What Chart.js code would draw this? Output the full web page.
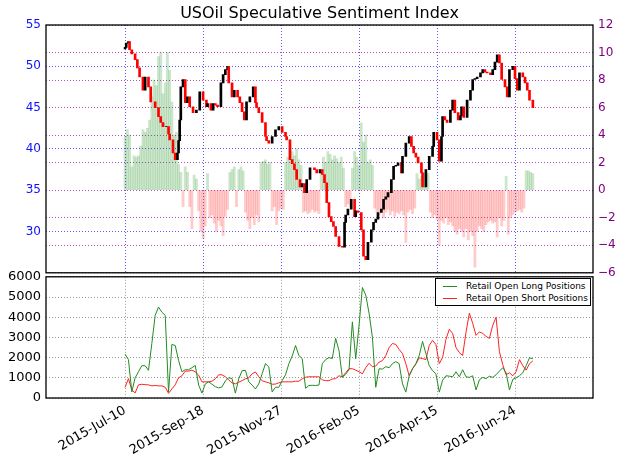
<!DOCTYPE html>
<html>
<head>
<meta charset="utf-8">
<script src="https://cdn.jsdelivr.net/npm/chart.js@4.4.1/dist/chart.umd.min.js"></script>
<style>
  body { margin: 0; background: #fff; }
  #wrap { position: relative; width: 624px; height: 466px; overflow: hidden; }
  #top { position: absolute; left: 0; top: 0; }
  #bot { position: absolute; left: 0; top: 264px; }
  #legend {
    position: absolute; left: 435px; top: 278px; width: 154px; height: 26px;
    border: 1px solid #000; background: #fff;
    font: 9px "DejaVu Sans", sans-serif; color: #000;
  }
  #legend .row { position: absolute; left: 0; height: 12px; line-height: 12px; white-space: nowrap; }
  #legend .ln { position: absolute; left: 7px; top: 6px; width: 14px; height: 1px; }
  #legend .tx { position: absolute; left: 30px; top: 0; }
</style>
</head>
<body>
<div id="wrap">
  <canvas id="top" width="624" height="285"></canvas>
  <canvas id="bot" width="624" height="202"></canvas>
  <div id="legend">
    <div class="row" style="top:1px"><span class="ln" style="background:#228b22"></span><span class="tx">Retail Open Long Positions</span></div>
    <div class="row" style="top:13px"><span class="ln" style="background:#ff2020"></span><span class="tx">Retail Open Short Positions</span></div>
  </div>
</div>
<script>
// x axis is in days counted from 2015-Jul-10
const tickDays = [0, 70, 140, 210, 280, 350];
const tickLabels = ['2015-Jul-10', '2015-Sep-18', '2015-Nov-27', '2016-Feb-05', '2016-Apr-15', '2016-Jun-24'];

// USOil closes (candles open at the previous close)
const priceDays = [0,1,3,4,6,9,11,13,16,18,21,23,27,30,32,34,37,39,40,43,45,47,48,49,50,52,54,56,58,61,
  64,67,70,73,74,77,79,81,83,86,88,90,92,93,96,98,101,103,105,107,109,112,115,117,118,120,123,126,127,129,
  132,135,138,141,144,145,148,150,152,154,157,159,161,163,166,170,172,175,177,179,181,183,185,187,189,192,195,197,198,200,
  203,206,207,209,212,214,216,218,221,223,225,227,230,232,234,236,239,241,243,245,248,249,252,255,257,259,261,263,266,267,
  270,273,276,277,280,282,284,285,287,289,292,294,296,299,301,302,304,307,310,312,314,316,319,321,323,325,328,330,332,334,
  336,338,341,343,345,348,350,352,354,357,359,361,363,366];
const priceClose = [52.3,52.8,53.0,52.0,51.5,50.8,49.8,48.7,47.1,48.7,47.5,45.7,45.0,43.9,43.2,42.7,42.7,41.8,41.1,39.5,38.7,39.5,41.0,43.5,47.5,48.4,45.6,46.3,45.1,44.4,
  44.7,46.9,45.9,45.1,45.5,44.7,45.5,45.3,45.1,48.0,49.0,49.6,50.0,48.0,46.3,47.1,46.3,45.6,44.5,43.5,45.7,46.3,47.5,45.6,45.0,44.4,43.2,41.5,41.0,40.7,
  41.5,42.3,42.7,42.0,41.5,41.1,38.7,38.2,37.5,36.3,35.4,35.8,34.7,36.3,37.7,37.5,37.1,37.5,36.9,35.9,33.5,31.8,31.2,30.6,29.4,28.2,28.1,31.1,32.0,32.7,
  33.9,31.8,32.5,32.3,30.2,27.0,26.6,28.7,30.2,31.1,31.5,32.3,32.7,33.9,34.2,34.7,36.3,37.9,38.0,38.3,37.1,39.1,40.7,41.5,40.3,39.5,39.0,38.3,37.1,35.4,
  37.5,39.1,40.3,42.0,41.1,38.5,41.5,43.9,43.5,43.2,44.7,45.9,44.4,43.5,44.0,45.1,43.8,45.9,47.1,48.4,48.5,48.7,49.2,49.6,49.3,49.2,49.0,49.6,50.5,51.4,
  50.4,48.4,47.5,46.3,49.6,50.0,48.5,47.1,49.2,48.7,48.0,47.1,45.9,45.0];

// speculative sentiment index, one bar every 2 days from day 0
const sentStep = 2;
const sentiment = [3.9,4.4,4.0,1.7,2.5,2.4,2.5,3.2,4.4,4.2,
  4.5,5.1,6.8,8.0,7.6,9.7,10.0,7.0,7.8,10.0,
  8.7,6.4,4.0,4.2,1.9,1.3,-1.2,1.7,1.3,-1.2,
  -2.8,1.1,0.8,-1.5,-3.0,-3.5,-2.6,1.2,-2.0,-1.8,
  -2.4,-3.0,-2.2,-2.6,-3.3,-1.9,-1.4,1.3,1.5,1.7,
  -1.2,1.5,1.7,1.4,-1.6,-2.2,-2.8,-2.0,-2.5,-1.8,
  -2.3,2.0,2.1,2.2,1.9,2.0,-1.5,-1.2,-2.5,-1.5,
  -1.3,-1.4,2.0,2.4,3.2,2.8,2.5,3.0,2.2,1.8,
  -1.6,-1.5,-1.7,-1.6,-1.4,-1.6,-1.5,-1.7,1.3,2.4,
  2.0,2.8,2.6,2.2,2.5,2.3,2.0,2.4,1.6,-1.2,
  -1.0,-1.2,1.6,2.8,2.4,1.8,4.9,3.5,4.0,2.0,
  2.2,1.8,-1.3,-1.6,-1.8,-1.5,-2.0,-1.6,-1.4,-1.8,
  -1.5,-1.9,-1.6,-1.7,-1.5,-1.8,-3.8,-1.6,-1.4,-1.7,
  -1.3,1.2,0.8,1.0,1.3,1.1,1.2,-1.6,-2.0,-1.8,
  -2.1,-4.0,-2.2,-2.4,-2.0,-2.5,-2.3,-2.6,-3.0,-3.2,
  -2.8,-3.0,-3.4,-2.8,-3.6,-3.0,-3.3,-5.6,-3.0,-2.6,
  -2.8,-3.0,-2.5,-2.3,-2.2,-2.4,-2.3,-3.4,-2.0,-2.6,
  -2.2,1.0,-3.2,-2.0,-1.8,-1.6,-1.5,-1.4,-1.6,-1.3,
  1.4,1.4,1.3,1.2];

// retail open positions, one point every 3 days from day 0
const posStep = 3;
const longPos = [2170,1900,300,1000,1300,1600,1600,1370,2700,4090,
  4500,4250,4090,300,2650,2600,1860,1300,1400,1400,
  1500,1610,640,240,700,800,680,560,500,550,
  850,1000,960,240,950,1350,1370,800,640,450,
  700,1200,1700,1540,300,530,530,860,1150,1700,
  2080,2600,2100,1950,480,620,630,620,640,1700,
  1900,2000,1950,2950,2350,1020,1180,1400,3770,1940,
  3600,5470,5100,4200,3000,530,1450,1430,1550,1500,
  1700,1800,1700,700,290,1100,1450,1700,2100,2800,
  2200,1600,1350,1200,290,880,1100,1080,1050,1300,
  1050,1400,1050,1020,1100,400,900,1020,960,1080,
  1020,1150,1330,1500,1250,400,920,1000,1100,1250,
  1600,1990,1940];
const shortPos = [530,960,400,250,650,680,660,650,600,620,
  600,600,530,230,450,650,1000,1100,1330,1330,
  1380,1290,1130,800,800,800,830,950,1150,1150,
  1050,900,750,700,780,860,950,1000,1200,1290,
  1050,850,800,750,680,690,750,800,800,800,
  800,830,830,950,1030,1050,1050,1050,1050,900,
  860,860,940,960,1100,1050,1250,1450,1450,1380,
  1300,1200,1500,1720,1550,1580,1780,1850,2100,2500,
  2700,2650,2400,2200,1700,1100,1450,1680,1990,1950,
  1900,2600,2850,2650,1700,2000,2900,3400,3200,2500,
  2250,2100,3250,4200,3700,3100,3270,3200,3050,2950,
  3600,4000,2300,1650,1150,1250,1100,1300,1900,1600,
  1380,1700,1840];

Chart.defaults.font.family = '"DejaVu Sans", sans-serif';
Chart.defaults.color = '#000';

// box around each panel + optional title
const framePlugin = {
  id: 'frame',
  afterDraw(chart, args, opts) {
    const { ctx, chartArea: a } = chart;
    ctx.save();
    ctx.strokeStyle = '#000';
    ctx.lineWidth = 1.3;
    ctx.strokeRect(a.left, a.top, a.right - a.left, a.bottom - a.top);
    if (opts.title) {
      ctx.fillStyle = '#000';
      ctx.font = '16px "DejaVu Sans", sans-serif';
      ctx.textAlign = 'center';
      ctx.textBaseline = 'middle';
      ctx.fillText(opts.title, (a.left + a.right) / 2, 14);
    }
    ctx.restore();
  }
};

function xScale(extra) {
  return Object.assign({
    type: 'linear', min: -71, max: 420, offset: false,
    afterBuildTicks: s => { s.ticks = tickDays.map(v => ({ value: v })); },
  }, extra);
}

// candles
const openVals = priceClose.map((c, i) => i === 0 ? 52.1 : priceClose[i - 1]);
const candleData = priceDays.map((d, i) => ({ x: d, y: [openVals[i], priceClose[i]] }));
const candleColors = priceClose.map((c, i) => c < openVals[i] ? '#ff0000' : '#000000');
const sentData = sentiment.map((v, i) => ({ x: i * sentStep, y: v }));
const sentColors = sentiment.map(v => v >= 0 ? 'rgba(0,128,0,0.2)' : 'rgba(255,0,0,0.2)');

new Chart(document.getElementById('top'), {
  type: 'bar',
  data: {
    datasets: [
      { data: candleData, yAxisID: 'yL', backgroundColor: candleColors, barThickness: 2, grouped: false },
      { data: sentData, yAxisID: 'yR', backgroundColor: sentColors, barThickness: 2.2, grouped: false }
    ]
  },
  options: {
    responsive: false, animation: false,
    layout: { padding: { top: 25, bottom: 11, left: 0, right: 0 } },
    plugins: { legend: { display: false }, tooltip: { enabled: false }, frame: { title: 'USOil Speculative Sentiment Index' } },
    scales: {
      x: xScale({
        afterFit: s => { s.height = 0; },
        ticks: { display: false },
        grid: { color: '#5a5aff', drawTicks: false, offset: false },
        border: { display: false, dash: [1, 2] }
      }),
      yL: {
        position: 'left', min: 25, max: 55,
        afterBuildTicks: s => { s.ticks = [30, 35, 40, 45, 50, 55].map(v => ({ value: v })); },
        afterFit: s => { s.width = 46; },
        ticks: { color: '#1010ff', font: { size: 12 }, padding: 5 },
        grid: { color: '#5a5aff', drawTicks: false },
        border: { display: false, dash: [1, 2] }
      },
      yR: {
        position: 'right', min: -6, max: 12,
        afterFit: s => { s.width = 31; },
        ticks: { stepSize: 2, color: '#800080', font: { size: 12 }, padding: 5,
                 callback: v => v < 0 ? '\u2212' + Math.abs(v) : String(v) },
        grid: { color: '#b050b0', drawTicks: false },
        border: { display: false, dash: [1, 2] }
      }
    }
  },
  plugins: [framePlugin]
});

new Chart(document.getElementById('bot'), {
  type: 'line',
  data: {
    datasets: [
      { label: 'Retail Open Long Positions', data: longPos.map((v, i) => ({ x: i * posStep, y: v })),
        borderColor: '#228b22', borderWidth: 1, pointRadius: 0, tension: 0 },
      { label: 'Retail Open Short Positions', data: shortPos.map((v, i) => ({ x: i * posStep, y: v })),
        borderColor: '#ff2020', borderWidth: 1, pointRadius: 0, tension: 0 }
    ]
  },
  options: {
    responsive: false, animation: false,
    layout: { padding: { top: 10, bottom: 0, left: 0, right: 31 } },
    plugins: { legend: { display: false }, tooltip: { enabled: false }, frame: {} },
    scales: {
      x: xScale({
        afterFit: s => { s.height = 68; },
        ticks: { minRotation: 30, maxRotation: 30, autoSkip: false, font: { size: 13 }, color: '#000', padding: 5,
                 callback: (v, i) => tickLabels[i] },
        grid: { color: '#999', drawTicks: false },
        border: { display: false, dash: [1, 2] }
      }),
      y: {
        min: 0, max: 6000,
        afterFit: s => { s.width = 46; },
        ticks: { stepSize: 1000, font: { size: 13 }, color: '#000', padding: 5, callback: v => String(v) },
        grid: { color: '#999', drawTicks: false },
        border: { display: false, dash: [1, 2] }
      }
    }
  },
  plugins: [framePlugin]
});
</script>
</body>
</html>
